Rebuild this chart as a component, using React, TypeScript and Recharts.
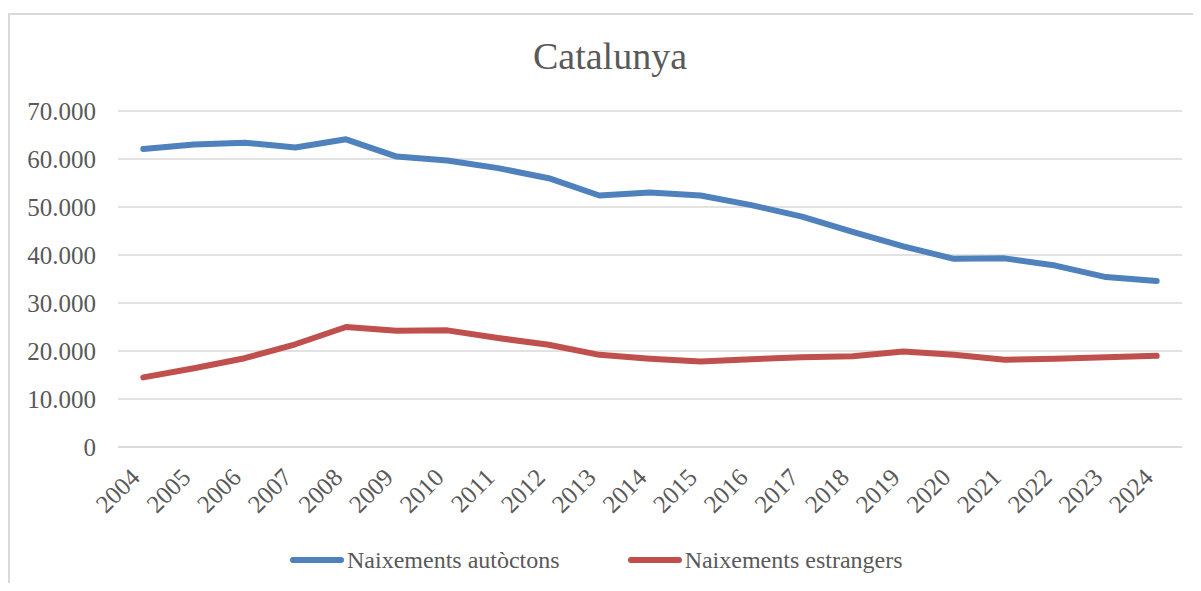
import React from 'react'
import { LineChart, Line, XAxis, YAxis, CartesianGrid, Legend } from 'recharts'

const years = [
  '2004', '2005', '2006', '2007', '2008', '2009', '2010', '2011', '2012', '2013', '2014',
  '2015', '2016', '2017', '2018', '2019', '2020', '2021', '2022', '2023', '2024',
]

// births to native-born mothers
const autoctons = [
  62100, 63000, 63400, 62400, 64100, 60500, 59700, 58100, 56000, 52400, 53000,
  52400, 50400, 48000, 44800, 41800, 39200, 39300, 37800, 35400, 34600,
]

// births to foreign-born mothers
const estrangers = [
  14500, 16400, 18500, 21400, 25000, 24200, 24300, 22700, 21300, 19200, 18400,
  17800, 18300, 18700, 18900, 19900, 19200, 18200, 18400, 18700, 19000,
]

const yTicks = [0, 10000, 20000, 30000, 40000, 50000, 60000, 70000]

const SERIES = [
  { key: 'autoctons', name: 'Naixements autòctons', color: '#4f81bd' },
  { key: 'estrangers', name: 'Naixements estrangers', color: '#c0504d' },
]

const data = years.map((year, i) => ({
  year,
  autoctons: autoctons[i],
  estrangers: estrangers[i],
}))

const FONT = '"Liberation Serif", "DejaVu Serif", serif'
const TEXT = '#595959'
const GRID = '#d9d9d9'

const fmt = (v: number) => String(v).replace(/\B(?=(\d{3})+(?!\d))/g, '.')

// year labels, slanted 45° and ending just below the axis
function YearTick({ x, y, payload }: any) {
  const tx = x - 2
  const ty = y + 32
  return (
    <text
      x={tx}
      y={ty}
      transform={`rotate(-45 ${tx} ${ty})`}
      textAnchor="end"
      fontFamily={FONT}
      fontSize={25}
      fill={TEXT}
    >
      {payload.value}
    </text>
  )
}

function LegendRow() {
  return (
    <div
      style={{
        display: 'flex',
        alignItems: 'center',
        height: 40,
        paddingLeft: 282,
        fontFamily: FONT,
        fontSize: 24,
        color: TEXT,
      }}
    >
      {SERIES.map((s, i) => (
        <div key={s.key} style={{ display: 'flex', alignItems: 'center', marginLeft: i ? 68 : 0 }}>
          <svg width={54} height={10}>
            <line x1={3} y1={5} x2={51} y2={5} stroke={s.color} strokeWidth={6} strokeLinecap="round" />
          </svg>
          <span style={{ marginLeft: 3 }}>{s.name}</span>
        </div>
      ))}
    </div>
  )
}

export default function App() {
  return (
    <div style={{ position: 'relative', width: 1185, height: 575, fontFamily: FONT }}>
      <div
        style={{
          position: 'absolute',
          top: 5,
          left: 0,
          right: 0,
          bottom: 0,
          borderTop: `2px solid ${GRID}`,
          borderLeft: `2px solid ${GRID}`,
        }}
      />
      <svg width={1185} height={100} style={{ position: 'absolute', top: 0, left: 0 }}>
        <text x={602} y={61} textAnchor="middle" fontFamily={FONT} fontSize={38} fill={TEXT}>
          Catalunya
        </text>
      </svg>
      <LineChart
        width={1185}
        height={575}
        data={data}
        margin={{ top: 103, right: 11, left: 0, bottom: 3 }}
        style={{ position: 'absolute', top: 0, left: 0 }}
      >
        <CartesianGrid vertical={false} stroke={GRID} strokeWidth={1.5} />
        <XAxis
          dataKey="year"
          interval={0}
          padding={{ left: 25.33, right: 25.33 }}
          axisLine={{ stroke: GRID, strokeWidth: 1.5 }}
          tickLine={false}
          tickSize={0}
          tickMargin={0}
          height={93}
          tick={YearTick}
        />
        <YAxis
          domain={[0, 70000]}
          ticks={yTicks}
          tickFormatter={fmt}
          width={110}
          axisLine={false}
          tickLine={false}
          tickMargin={16}
          tick={{ fill: TEXT, fontSize: 25, fontFamily: FONT }}
        />
        <Legend verticalAlign="bottom" height={40} content={() => <LegendRow />} wrapperStyle={{ left: 0, width: 1185 }} />
        {SERIES.map((s) => (
          <Line
            key={s.key}
            type="linear"
            dataKey={s.key}
            name={s.name}
            stroke={s.color}
            strokeWidth={6}
            strokeLinecap="round"
            strokeLinejoin="round"
            dot={false}
            activeDot={false}
            isAnimationActive={false}
          />
        ))}
      </LineChart>
    </div>
  )
}
